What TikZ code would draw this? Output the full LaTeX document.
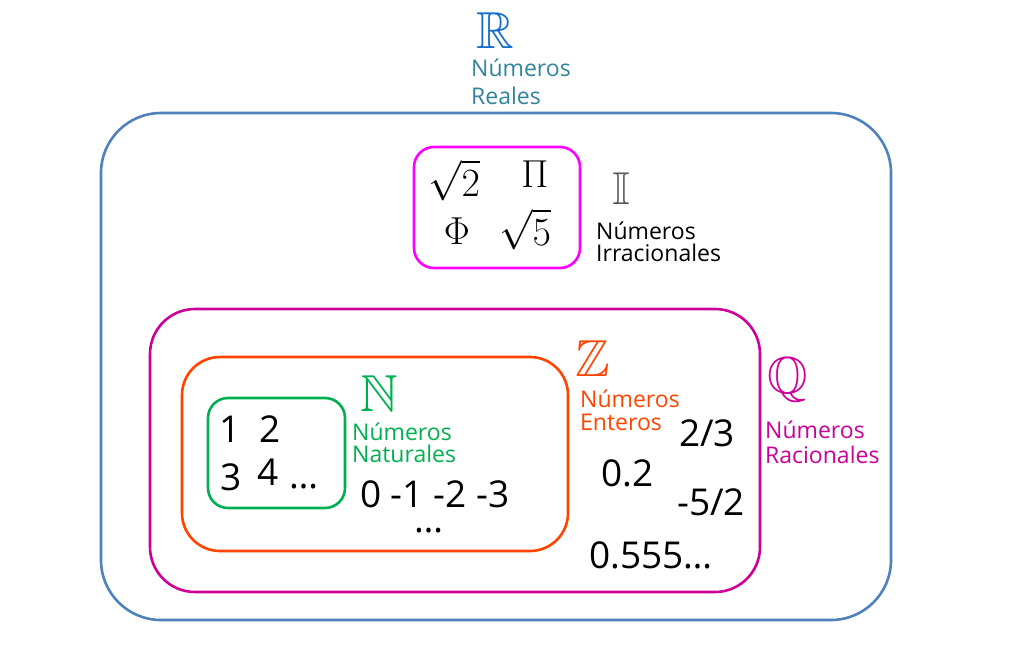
\documentclass[tikz,border=0pt]{standalone}
\usepackage{fix-cm}
\usepackage{amssymb}
\usepackage{fontspec}
\setmainfont{Open Sans}
\definecolor{cblue}{RGB}{79,129,189}
\definecolor{cRblue}{RGB}{20,110,200}
\definecolor{cteal}{RGB}{49,133,155}
\definecolor{cmag}{RGB}{255,0,255}
\definecolor{cpurp}{RGB}{204,0,153}
\definecolor{corange}{RGB}{255,69,0}
\definecolor{cgreen}{RGB}{0,176,80}
\tikzset{
  setbox/.style={draw=#1, line width=2.6pt, rounded corners, inner sep=0pt},
  lbl/.style={align=left, anchor=west, inner sep=0pt, font=\fontsize{23}{23}\selectfont, text=#1},
  bb/.style={inner sep=0pt, text height=36pt, text depth=0pt, font=\fontsize{52}{52}\selectfont, text=#1},
  num/.style={inner sep=0pt, anchor=base west, text height=26pt, text depth=0pt, font=\fontsize{37}{37}\selectfont},
  mth/.style={inner sep=0pt, text height=28pt, text depth=0pt, font=\fontsize{40}{40}\selectfont},
}
\begin{document}
\begin{tikzpicture}[x=1pt,y=-1pt]
\useasboundingbox (0,0) rectangle (1011,653);
% boxes
\node[setbox=cblue, rounded corners=60pt, minimum width=790pt, minimum height=507pt] (R) at (496,366.5) {};
\node[setbox=cmag, rounded corners=20pt, minimum width=166pt, minimum height=121pt] (I) at (497,207.5) {};
\node[setbox=cpurp, rounded corners=45pt, minimum width=610pt, minimum height=283pt] (Q) at (455,450.5) {};
\node[setbox=corange, rounded corners=38pt, minimum width=386pt, minimum height=194pt] (Z) at (375,454) {};
\node[setbox=cgreen, rounded corners=20pt, minimum width=137pt, minimum height=110pt] (N) at (276.5,453) {};
% R
\node[bb=cRblue] (Rsym) at (495,30) {$\mathbb{R}$};
\node[lbl=cteal, font=\fontsize{23}{28}\selectfont] (Rlbl) at (471,82) {Números\\Reales};
% I
\node[mth, anchor=base] (s2) at (454,196) {$\sqrt{2}$};
\node[mth, anchor=base, text height=26pt, font=\fontsize{39}{39}\selectfont] (pi) at (535,187) {$\Pi$};
\node[mth, anchor=base, text height=26pt, font=\fontsize{39}{39}\selectfont] (phi) at (457,244) {$\Phi$};
\node[mth, anchor=base] (s5) at (525,245) {$\sqrt{5}$};
\node[bb=black!65, text height=32pt, font=\fontsize{46}{46}\selectfont] (Isym) at (621,188) {$\mathbb{I}$};
\node[lbl=black, font=\fontsize{23}{22}\selectfont] (Ilbl) at (596,242) {Números\\Irracionales};
% Z
\node[bb=corange] (Zsym) at (593,358) {$\mathbb{Z}$};
\node[lbl=corange] (Zlbl) at (580,410) {Números\\Enteros};
% Q
\node[bb=cpurp] (Qsym) at (788,375) {$\mathbb{Q}$};
\node[lbl=cpurp, font=\fontsize{23}{25}\selectfont] (Qlbl) at (765,442) {Números\\Racionales};
% N
\node[bb=cgreen] (Nsym) at (379,393) {$\mathbb{N}$};
\node[lbl=cgreen, font=\fontsize{23}{22}\selectfont] (Nlbl) at (352,443) {Números\\Naturales};
% naturals
\node[num] (n1) at (219,442) {1};
\node[num] (n2) at (259,442) {2};
\node[num] (n3) at (220,490) {3};
\node[num] (n4) at (257,485) {4};
\node[num, text height=5pt] (ndots) at (289,488) {\ldots};
% integers
\node[num] (zint) at (360,507) {0 -1 -2 -3};
\node[num, text height=5pt] (zdots) at (414,532) {\ldots};
% rationals
\node[num] (q1) at (679,446) {2/3};
\node[num] (q2) at (601,486) {0.2};
\node[num] (q3) at (677,515) {-5/2};
\node[num] (q4) at (589,568) {0.555\ldots};
\end{tikzpicture}
\end{document}
